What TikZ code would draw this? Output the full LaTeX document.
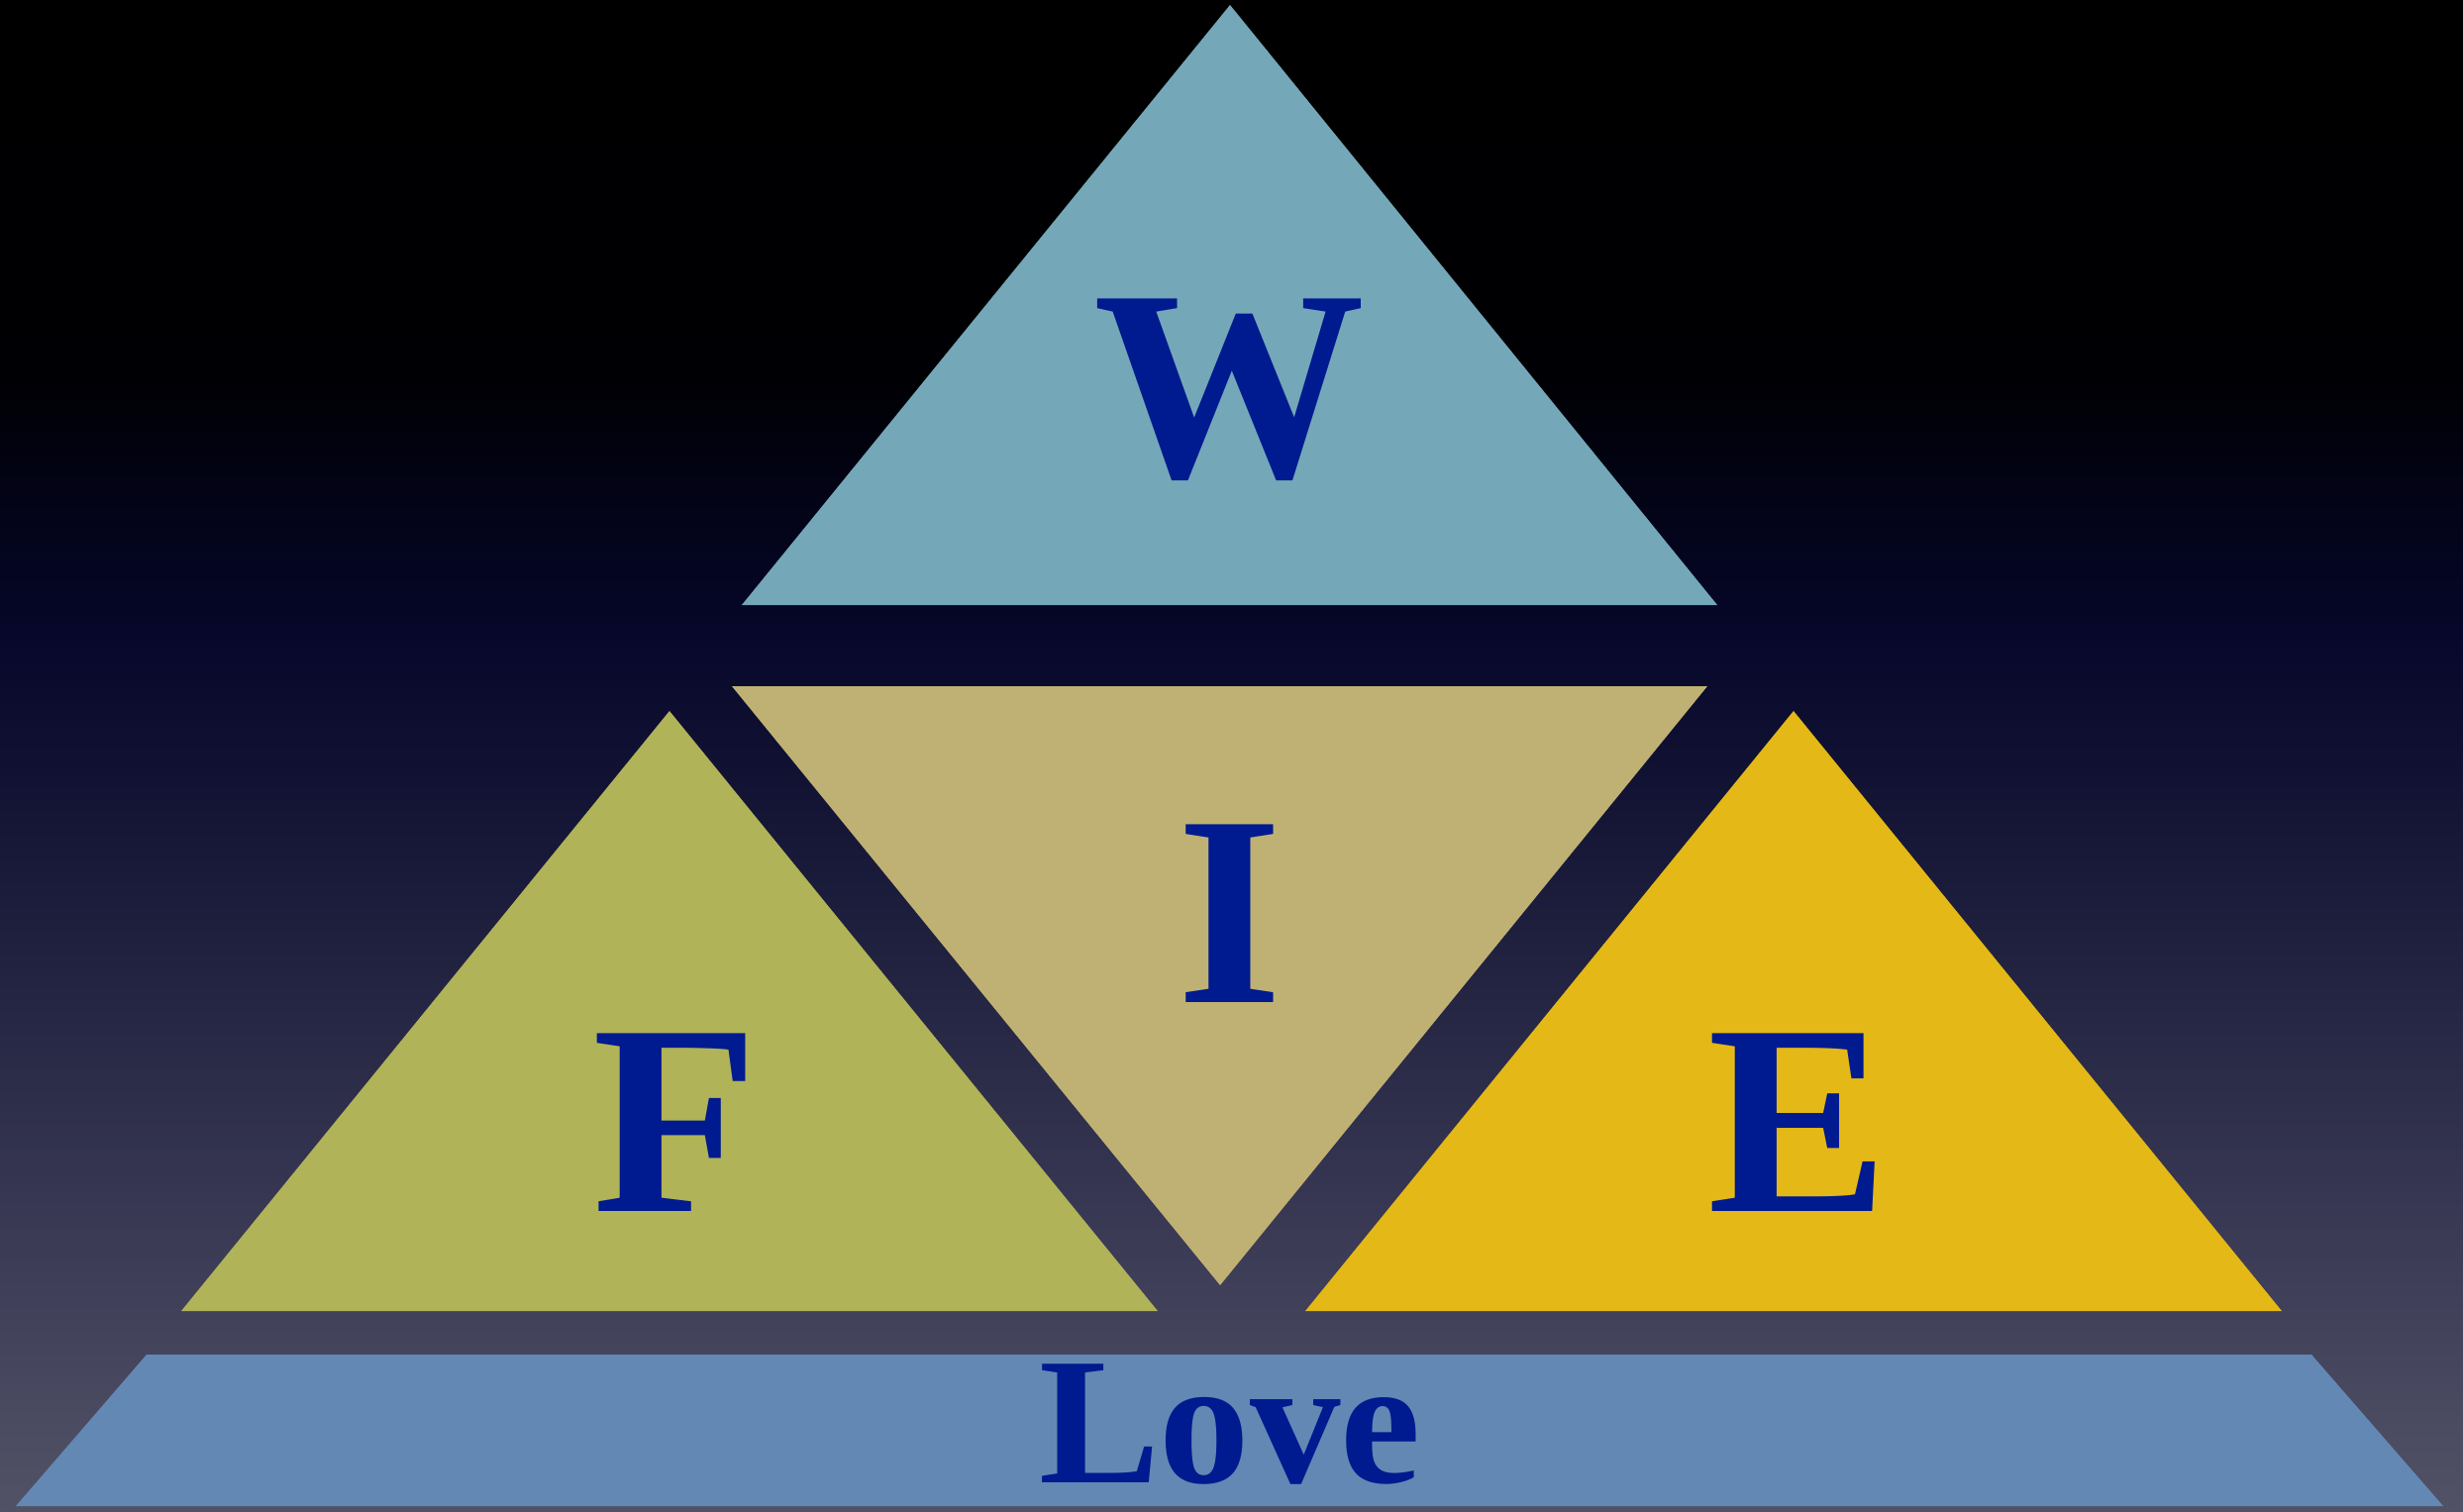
\documentclass[tikz,border=0pt]{standalone}
\usepackage{fontspec}
\setmainfont{Liberation Serif}
\definecolor{cW}{HTML}{74A8B8}
\definecolor{cI}{HTML}{BFB173}
\definecolor{cF}{HTML}{B0B357}
\definecolor{cE}{HTML}{E4B816}
\definecolor{cL}{HTML}{6388B4}
\definecolor{txt}{HTML}{001A90}
\definecolor{bg0}{HTML}{525266}
\definecolor{bg1}{HTML}{3C3C57}
\definecolor{bg2}{HTML}{1F203E}
\definecolor{bg3}{HTML}{06072A}
\definecolor{bg4}{HTML}{000004}
\pgfdeclareverticalshading{bgshade}{100bp}{color(0bp)=(bg0); color(25bp)=(bg0); color(33.5bp)=(bg1); color(44bp)=(bg2); color(54bp)=(bg3); color(62.5bp)=(bg4); color(75bp)=(black); color(100bp)=(black)}
\tikzset{
  piece/.style={draw=none},
  bigletter/.style={anchor=base, text=txt, font=\fontsize{78}{80}\selectfont\bfseries, inner sep=0pt},
  smallletter/.style={anchor=base, text=txt, font=\fontsize{52}{54}\selectfont\bfseries, inner sep=0pt}
}
\begin{document}
\begin{tikzpicture}[x=0.01cm,y=-0.01cm]
\useasboundingbox (0,0) rectangle (2487,1527);
\shade[shading=bgshade] (0,0) rectangle (2487,1527);
% triangles
\fill[cW] (1242,5) -- (1734,611) -- (749,611) -- cycle;
\fill[cI] (739,693) -- (1724,693) -- (1232,1298) -- cycle;
\fill[cF] (676,718) -- (1169,1324) -- (183,1324) -- cycle;
\fill[cE] (1811,718) -- (2304,1324) -- (1318,1324) -- cycle;
\fill[cL] (148,1368) -- (2334,1368) -- (2467,1521) -- (16,1521) -- cycle;
% letters
\node[bigletter] (w) at (1242,481) {W};
\node[bigletter] (i) at (1242,1012) {I};
\node[bigletter] (f) at (682,1223) {F};
\node[bigletter] (e) at (1816,1223) {E};
\node[smallletter] (love) at (1242,1497) {Love};
\end{tikzpicture}
\end{document}
